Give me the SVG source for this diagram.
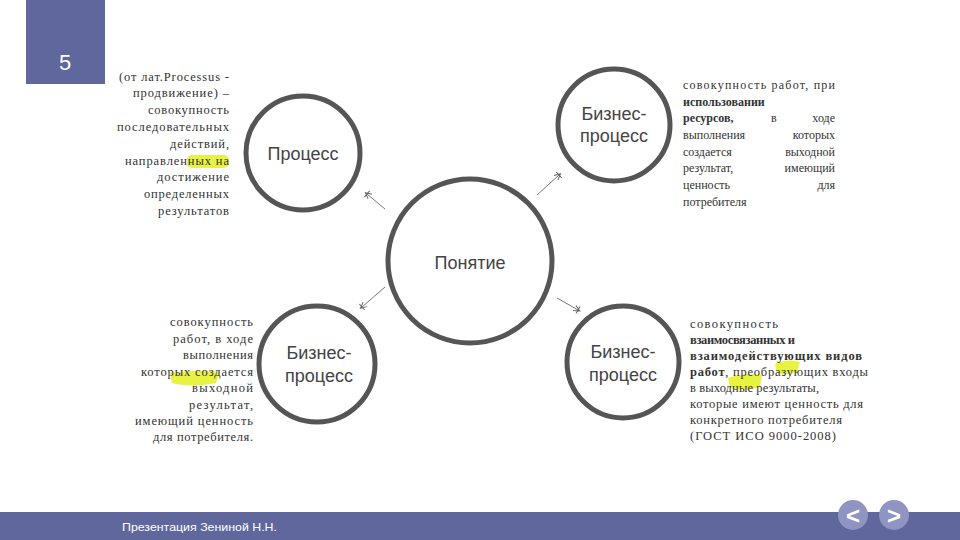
<svg xmlns="http://www.w3.org/2000/svg" width="960" height="540" viewBox="0 0 960 540">
<style>
.node{fill:#fff;stroke:#555;stroke-width:5}
.lbl{font-family:"Liberation Sans",Arial,sans-serif;font-size:18px;fill:#444;text-anchor:middle}
.t{font-size:12.5px;fill:#333}
.s{font-size:12px}
.r{text-anchor:end}
.b{font-weight:bold}
.con{stroke:#777;stroke-width:1;fill:none;marker-end:url(#ah)}
.hl{fill:#e4f020;opacity:0.85}
</style>
<defs>
<marker id="ah" viewBox="0 0 10 10" refX="5" refY="5" markerWidth="10" markerHeight="10" orient="auto" markerUnits="userSpaceOnUse">
<path d="M1,2 L7,5 L1,8 M5,1 L5,9" stroke="#666" stroke-width="1" fill="none"/>
</marker>
</defs>
<rect width="960" height="540" fill="#fff"/>
<rect x="26" y="0" width="79" height="84" fill="#5f679d"/>
<text x="65" y="70" font-family="Liberation Sans, Arial, sans-serif" font-size="22" fill="#fff" text-anchor="middle">5</text>

<g id="highlights">
<rect class="hl" x="187" y="155" width="42" height="13" rx="5"/>
<path class="hl" d="M170,373 Q196,369 220,372 L216,383 Q192,388 172,383 Z"/>
<path class="hl" d="M728,378 Q745,372 762,375 L760,387 Q744,392 730,388 Z"/>
<path class="hl" d="M775,364 Q788,358 800,362 L797,372 Q786,376 777,373 Z"/>
</g>

<g id="connectors">
<line class="con" x1="385" y1="209" x2="367" y2="194"/>
<line class="con" x1="537" y1="195" x2="559" y2="175"/>
<line class="con" x1="385" y1="287" x2="362" y2="307"/>
<line class="con" x1="557" y1="298" x2="578" y2="310"/>
</g>

<g id="n-concept">
<circle class="node" cx="470" cy="261" r="82"/>
<text class="lbl" x="470" y="269" font-size="17">Понятие</text>
</g>
<g id="n-process">
<circle class="node" cx="303" cy="153" r="57"/>
<text class="lbl" x="303" y="160">Процесс</text>
</g>
<g id="n-bp-tr">
<circle class="node" cx="614" cy="125" r="56"/>
<text class="lbl" x="614" y="120">Бизнес-</text>
<text class="lbl" x="614" y="142">процесс</text>
</g>
<g id="n-bp-bl">
<circle class="node" cx="317" cy="364" r="58"/>
<text class="lbl" x="319" y="359">Бизнес-</text>
<text class="lbl" x="319" y="382">процесс</text>
</g>
<g id="n-bp-br">
<circle class="node" cx="623" cy="362" r="56"/>
<text class="lbl" x="623" y="358">Бизнес-</text>
<text class="lbl" x="623" y="381">процесс</text>
</g>

<g id="txt-process" font-family="Liberation Serif, Times New Roman, DejaVu Serif, serif">
<text class="t r" x="229" y="81" textLength="110" lengthAdjust="spacing">(от лат.Processus -</text>
<text class="t r" x="229" y="97" textLength="96" lengthAdjust="spacing">продвижение) –</text>
<text class="t r" x="229" y="114" textLength="81" lengthAdjust="spacing">совокупность</text>
<text class="t r" x="229" y="131" textLength="112" lengthAdjust="spacing">последовательных</text>
<text class="t r" x="229" y="148" textLength="59" lengthAdjust="spacing">действий,</text>
<text class="t r" x="229" y="165" textLength="104" lengthAdjust="spacing">направленных на</text>
<text class="t r" x="229" y="181" textLength="72" lengthAdjust="spacing">достижение</text>
<text class="t r" x="229" y="198" textLength="85" lengthAdjust="spacing">определенных</text>
<text class="t r" x="229" y="215" textLength="71" lengthAdjust="spacing">результатов</text>
</g>

<g id="txt-bp-tr" font-family="Liberation Serif, Times New Roman, DejaVu Serif, serif">
<text class="t s" x="683" y="89" textLength="152" lengthAdjust="spacing">совокупность работ, при</text>
<text class="t s b" x="683" y="106">использовании</text>
<text class="t s b" x="683" y="122">ресурсов,</text>
<text class="t s" x="771" y="122">в</text>
<text class="t s r" x="835" y="122">ходе</text>
<text class="t s" x="683" y="139">выполнения</text>
<text class="t s r" x="835" y="139">которых</text>
<text class="t s" x="683" y="156">создается</text>
<text class="t s r" x="835" y="156">выходной</text>
<text class="t s" x="683" y="172">результат,</text>
<text class="t s r" x="835" y="172">имеющий</text>
<text class="t s" x="683" y="189">ценность</text>
<text class="t s r" x="835" y="189">для</text>
<text class="t s" x="683" y="206">потребителя</text>
</g>

<g id="txt-bp-bl" font-family="Liberation Serif, Times New Roman, DejaVu Serif, serif">
<text class="t r" x="253" y="326" textLength="83" lengthAdjust="spacing">совокупность</text>
<text class="t r" x="253" y="343" textLength="80" lengthAdjust="spacing">работ, в ходе</text>
<text class="t r" x="253" y="359" textLength="70" lengthAdjust="spacing">выполнения</text>
<text class="t r" x="253" y="376" textLength="112" lengthAdjust="spacing">которых создается</text>
<text class="t r" x="253" y="392" textLength="61" lengthAdjust="spacing">выходной</text>
<text class="t r" x="253" y="409" textLength="64" lengthAdjust="spacing">результат,</text>
<text class="t r" x="253" y="425" textLength="118" lengthAdjust="spacing">имеющий ценность</text>
<text class="t r" x="253" y="441" textLength="100" lengthAdjust="spacing">для потребителя.</text>
</g>

<g id="txt-bp-br" font-family="Liberation Serif, Times New Roman, DejaVu Serif, serif">
<text class="t" x="690" y="328" textLength="88" lengthAdjust="spacing">совокупность</text>
<text class="t b" x="690" y="344" textLength="105" lengthAdjust="spacing">взаимосвязанных и</text>
<text class="t b" x="690" y="360" textLength="172" lengthAdjust="spacing">взаимодействующих видов</text>
<text class="t" x="690" y="376" textLength="178" lengthAdjust="spacing"><tspan class="b">работ</tspan>, преобразующих входы</text>
<text class="t" x="690" y="392" textLength="129" lengthAdjust="spacing">в выходные результаты,</text>
<text class="t" x="690" y="408" textLength="173" lengthAdjust="spacing">которые имеют ценность для</text>
<text class="t" x="690" y="424" textLength="152" lengthAdjust="spacing">конкретного потребителя</text>
<text class="t" x="690" y="440" textLength="146" lengthAdjust="spacing">(ГОСТ ИСО 9000-2008)</text>
</g>

<g id="footer">
<rect x="0" y="512" width="960" height="28" fill="#5f679d"/>
<text x="122" y="531" font-family="Liberation Sans, Arial, sans-serif" font-size="11" fill="#fff" textLength="155" lengthAdjust="spacingAndGlyphs">Презентация Зениной Н.Н.</text>
<circle cx="853" cy="515" r="15" fill="#8f94c2"/>
<circle cx="894" cy="515" r="15" fill="#8f94c2"/>
<text x="853" y="524" font-family="Liberation Sans, Arial, sans-serif" font-size="24" font-weight="bold" fill="#fff" text-anchor="middle">&lt;</text>
<text x="894" y="524" font-family="Liberation Sans, Arial, sans-serif" font-size="24" font-weight="bold" fill="#fff" text-anchor="middle">&gt;</text>
</g>
</svg>
